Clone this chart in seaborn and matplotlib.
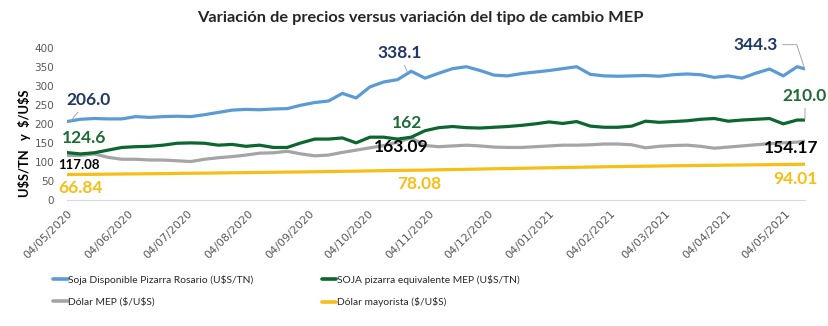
import numpy as np
import pandas as pd
import matplotlib
matplotlib.use("Agg")
import matplotlib.pyplot as plt
import matplotlib.dates as mdates
from matplotlib import font_manager as fm
from matplotlib.lines import Line2D
import seaborn as sns

# ---------------- data ----------------
dates = list(pd.date_range("2020-05-04", periods=54, freq="7D")) + [pd.Timestamp("2021-05-14")]

soja_rosario = [206.0, 212, 214, 213, 213, 219, 217, 219, 220, 219,
                224, 230, 236, 238, 237, 239, 240, 249, 256, 260,
                280, 268, 297, 310, 316, 338.1, 320, 333, 345, 350,
                340, 328, 326, 332, 336, 340, 345, 350, 330, 326,
                325, 326, 327, 325, 329, 331, 329, 322, 326, 320,
                333, 344, 326, 350, 344.3]
soja_mep = [124.6, 121, 124, 131, 138, 140, 141, 144, 149, 150,
            149, 144, 146, 141, 144, 138, 138, 150, 160, 160,
            163, 150, 165, 165, 160, 165, 182, 190, 193, 190,
            189, 191, 193, 196, 200, 205, 201, 206, 194, 191,
            191, 194, 207, 204, 206, 208, 212, 214, 207, 210,
            212, 214, 200, 210, 210.0]
dolar_mep = [117.08, 117, 121, 112, 107, 107, 105, 105, 103, 101,
             107, 111, 114, 118, 123, 124, 128, 121, 116, 118,
             125, 131, 137, 143, 152, 163.09, 143, 140, 142, 144,
             142, 139, 138, 138, 140, 142, 144, 144, 145, 147,
             147, 145, 137, 141, 143, 144, 141, 136, 139, 142,
             145, 148, 150, 152, 154.17]
dolar_mayorista = [66.84, 67.1, 67.5, 67.9, 68.3, 68.6, 68.9, 69.3, 69.9, 70.3,
                   70.6, 71.0, 71.5, 71.9, 72.4, 72.8, 73.3, 73.7, 74.2, 74.7,
                   75.2, 75.8, 76.4, 77.0, 77.6, 78.08, 78.6, 79.3, 80.0, 80.6,
                   81.3, 82.0, 82.6, 83.3, 84.0, 84.6, 85.3, 85.9, 86.6, 87.2,
                   87.8, 88.3, 88.8, 89.3, 89.8, 90.3, 90.8, 91.2, 91.6, 92.0,
                   92.4, 92.8, 93.2, 93.6, 94.01]

series_names = ["Soja Disponible Pizarra Rosario (U$S/TN)",
                "Dólar MEP ($/U$S)",
                "SOJA pizarra equivalente MEP (U$S/TN)",
                "Dólar mayorista ($/U$S)"]
series_values = [soja_rosario, dolar_mep, soja_mep, dolar_mayorista]
colors = ["#5B9BD5", "#A5A5A5", "#0B6630", "#F7BE16"]

title = "Variación de precios versus variación del tipo de cambio MEP"
ylabel = "U$S/TN   y  $/U$S"

# annotation labels: (text, point date, point value, text date, text value, color, size, conn)
labels = [
    ("206.0", "2020-05-06", 208, "2020-05-15", 263, "#1F3864", 12.5, None),
    ("124.6", None, None, "2020-05-13", 163, "#1E6B35", 12.5, None),
    ("117.08", None, None, "2020-05-10", 92, "#000000", 9.5, None),
    ("66.84", None, None, "2020-05-11", 32, "#F7BE16", 12.5, None),
    ("338.1", "2020-10-24", 336, "2020-10-20", 387, "#1F3864", 12.5, None),
    ("162", None, None, "2020-10-24", 203, "#1E6B35", 12.5, None),
    ("163.09", None, None, "2020-10-21", 139, "#000000", 12.5, None),
    ("78.08", None, None, "2020-10-30", 42, "#F7BE16", 12.5, None),
    ("344.3", "2021-05-14", 342, "2021-04-19", 408, "#1F3864", 12.5,
     "angle,angleA=0,angleB=108,rad=0"),
    ("210.0", "2021-05-14", 212, "2021-05-14", 274, "#1E6B35", 12.5, None),
    ("154.17", None, None, "2021-05-07", 137, "#000000", 12.5, None),
    ("94.01", None, None, "2021-05-09", 55, "#F7BE16", 12.5, None),
]


def esc(s):
    return s.replace("$", r"\$")


def has_font(name):
    try:
        fm.findfont(fm.FontProperties(family=name), fallback_to_default=False)
        return True
    except Exception:
        return False


# ---------------- frame ----------------
rows = []
for name, vals in zip(series_names, series_values):
    for d, v in zip(dates, vals):
        rows.append({"Fecha": d, "Serie": name, "Valor": v})
df = pd.DataFrame(rows)

sns.set_style("white")
plt.rcParams["font.family"] = ["DejaVu Sans"]

num_font = ["Lato", "DejaVu Sans"]
if has_font("Liberation Sans Narrow"):
    leg_font, leg_size = ["Liberation Sans Narrow", "DejaVu Sans"], 8.6
else:
    leg_font, leg_size = ["Lato", "DejaVu Sans"], 7.4

fig = plt.figure(figsize=(8.29, 3.26), dpi=100)
ax = fig.add_axes([0.0805, 0.3865, 0.971 - 0.0805, 0.8537 - 0.3865])

sns.lineplot(data=df, x="Fecha", y="Valor", hue="Serie", hue_order=series_names,
             palette=colors, linewidth=2.3, ax=ax, legend=False)

ax.set_xlim(dates[0], dates[-1])
ax.set_ylim(0, 400)
ax.set_yticks(range(0, 401, 50))
ax.tick_params(axis="y", length=0, labelsize=7.5, labelcolor="#595959", pad=9)

xt = pd.date_range("2020-05-01", "2021-05-04", freq="MS") + pd.Timedelta(days=3)
ax.set_xticks(xt)
ax.xaxis.set_major_formatter(mdates.DateFormatter("%d/%m/%Y"))
ax.tick_params(axis="x", length=4, color="#D9D9D9", labelsize=8, labelcolor="#595959", pad=2)
for lab in ax.get_xticklabels():
    lab.set_rotation(45)
    lab.set_ha("right")
    lab.set_rotation_mode("anchor")

for s in ["top", "right", "left"]:
    ax.spines[s].set_visible(False)
ax.spines["bottom"].set_color("#D9D9D9")
ax.grid(False)

ax.set_xlabel("")
ax.set_ylabel(esc(ylabel), fontsize=9.3, fontweight="bold", color="#000000",
              family=["Lato", "DejaVu Sans"])
ax.yaxis.set_label_coords(-0.049, 0.37)

fig.text(0.507, 0.945, title, ha="center", va="center", fontsize=11.8, fontweight="bold",
         family=["Lato", "DejaVu Sans"])

for txt, pd_, pv, td, tv, col, sz, conn in labels:
    if pd_ is None:
        ax.text(pd.Timestamp(td), tv, txt, ha="center", va="center", color=col,
                fontsize=sz, fontweight="bold", clip_on=False, family=num_font)
    else:
        ap = dict(arrowstyle="-", color="#A6A6A6", lw=0.7, shrinkA=1, shrinkB=0)
        if conn:
            ap["connectionstyle"] = conn
        ax.annotate(txt, xy=(pd.Timestamp(pd_), pv), xytext=(pd.Timestamp(td), tv),
                    ha="center", va="center", color=col, fontsize=sz, fontweight="bold",
                    annotation_clip=False, family=num_font, arrowprops=ap)

handles = [Line2D([0], [0], color=c, lw=2.6) for c in colors]
fig.legend(handles, [esc(n) for n in series_names], loc="upper left",
           bbox_to_anchor=(0.064, 0.157),
           ncol=2, frameon=False, handlelength=1.45, handletextpad=0.05,
           columnspacing=6.6, labelspacing=1.2, borderaxespad=0, borderpad=0,
           prop={"family": leg_font, "size": leg_size})

fig.savefig("out.png", dpi=100)
